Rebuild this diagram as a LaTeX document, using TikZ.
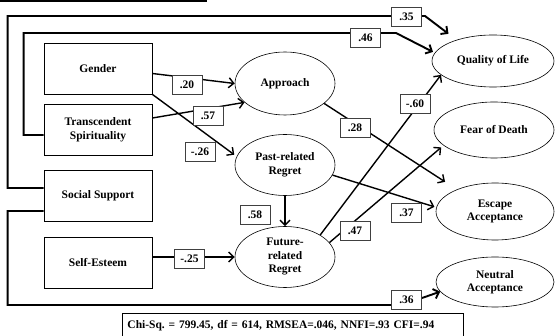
\documentclass[tikz,border=0pt]{standalone}
\usepackage{fontspec}
\setmainfont{Liberation Serif}
\usetikzlibrary{shapes.geometric,arrows.meta,calc}
\frenchspacing
\tikzset{
  var/.style={draw,line width=0.9pt,minimum width=108pt,minimum height=51pt,align=center,
    font=\fontsize{11.5}{14}\selectfont\bfseries},
  latent/.style={draw,ellipse,line width=0.6pt,inner sep=0pt,align=center,
    font=\fontsize{11.5}{13.5}\selectfont\bfseries},
  coef/.style={draw=black!75,fill=white,line width=0.9pt,minimum width=30pt,minimum height=19pt,
    inner sep=1pt,font=\fontsize{11.5}{13}\selectfont\bfseries},
  eff/.style={line width=1.4pt,-{Straight Barb[length=5pt,width=10pt]}},
  route/.style={line width=1.9pt,-{Straight Barb[length=5pt,width=10pt]}}
}
\begin{document}
\begin{tikzpicture}[x=1pt,y=-1pt]
  \useasboundingbox (0,0) rectangle (555,336);
  \draw[line width=1.2pt] (0,1) -- (207,1);
  \node[var](Gender) at (98,68.5) {Gender};
  \node[var](Trans) at (98,129.5) {Transcendent\\Spirituality};
  \node[var](Social) at (98,196) {Social Support};
  \node[var](Self) at (98,262.5) {Self-Esteem};
  \node[latent,minimum width=100pt,minimum height=63pt](Appr) at (285,83.5) {Approach};
  \node[latent,minimum width=100pt,minimum height=61pt](Past) at (285,165) {Past-related\\Regret};
  \node[latent,minimum width=100pt,minimum height=61pt](Future) at (285,257) {Future-\\related\\Regret};
  \node[latent,minimum width=122pt,minimum height=52pt](QoL) at (493,61) {Quality of Life};
  \node[latent,minimum width=120pt,minimum height=56pt](Fear) at (494,130) {Fear of Death};
  \node[latent,minimum width=118pt,minimum height=57pt](Escape) at (495,211.5) {Escape\\Acceptance};
  \node[latent,minimum width=118pt,minimum height=50pt](Neutral) at (495,282) {Neutral\\Acceptance};
  \draw[eff] ($(Gender.east)+(0,5)$) -- (Appr.west);
  \draw[eff] ($(Trans.east)+(0,-11.5)$) -- (Appr.205);
  \draw[eff,shorten >=3pt] (Gender.south east) -- (Past.170);
  \draw[eff,shorten >=14pt] (Appr.333) -- (Escape.150);
  \draw[eff,shorten >=2pt] (Past.-12) -- (Escape.176);
  \draw[eff] (Past.south) -- (Future.north);
  \draw[eff] (Self.east |- Future.west) -- (Future.west);
  \draw[eff] (Future.32) -- (QoL.195);
  \draw[eff,shorten >=3pt] (Future.18) -- (Fear.197);
  \draw[route,shorten >=10pt] ($(Social.west)+(0,-8)$) -- ++(-36,0) |- (425,16) -- (QoL.150);
  \draw[route,shorten >=2pt] ($(Trans.west)+(0,5.5)$) -- ++(-20,0) |- (396,33) -- (QoL.172);
  \draw[route] ($(Social.west)+(0,15)$) -- ++(-36,0) |- (391,305) -- (422,298) -- (Neutral.190);
  \node[coef](c20) at (187,84.5) {.20};
  \node[coef](c57) at (208,116) {.57};
  \node[coef](c26) at (200,151.5) {-.26};
  \node[coef](c28) at (355,127.5) {.28};
  \node[coef](c60) at (415,104) {-.60};
  \node[coef](c47) at (355,231) {.47};
  \node[coef](c37) at (406.5,213) {.37};
  \node[coef](c58) at (255,214.5) {.58};
  \node[coef](c25) at (189.5,259) {-.25};
  \node[coef](c35) at (406.5,17) {.35};
  \node[coef](c46) at (365.5,38) {.46};
  \node[coef](c36) at (406.5,300) {.36};
  \node[draw,line width=0.9pt,anchor=north west,minimum height=24pt,text width=331pt,inner sep=5pt,
    align=left,font=\fontsize{11.5}{13}\selectfont\bfseries](fit) at (122,313)
    {Chi-Sq. = 799.45, df = 614, RMSEA=.046, NNFI=.93 CFI=.94};
\end{tikzpicture}
\end{document}
